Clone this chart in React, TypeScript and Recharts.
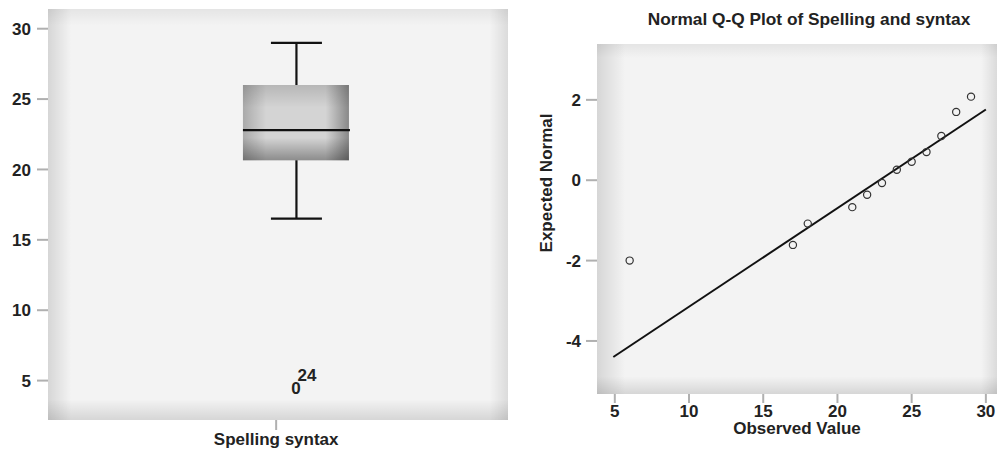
import {
  ComposedChart,
  Bar,
  Scatter,
  XAxis,
  YAxis,
  ReferenceArea,
  ReferenceLine,
} from 'recharts'

// box plot summary for the single variable
const boxCategory = ['Spelling syntax']
const whiskerLow = [16.5]
const quartile1 = [20.65]
const medianValue = [22.8]
const quartile3 = [26]
const whiskerHigh = [29]
const boxTicks = [5, 10, 15, 20, 25, 30]
const boxDomain = [2.2, 31.4]

// case labels of the extreme cases
const outlierCases = ['0', '24']
const outlierValues = [4.45, 5.35]

// normal Q-Q plot
const observed = [6, 17, 18, 21, 22, 23, 24, 25, 26, 27, 28, 29]
const expectedNormal = [-2.0, -1.61, -1.08, -0.67, -0.36, -0.07, 0.26, 0.46, 0.7, 1.1, 1.7, 2.08]
const fitX = [4.9, 30]
const fitY = [-4.4, 1.76]
const qqXTicks = [5, 10, 15, 20, 25, 30]
const qqYTicks = [-4, -2, 0, 2]
const qqXDomain = [3.8, 30.75]
const qqYDomain = [-5.32, 3.39]

const FONT = '"Liberation Sans", Arial, sans-serif'
const CAT_POS = 49.6
const BOX_POS = 53.9

const boxRows = boxCategory.map((name, i) => ({
  name,
  pos: BOX_POS,
  whisker: [whiskerLow[i], whiskerHigh[i]],
  box: [quartile1[i], quartile3[i]],
  q1: quartile1[i],
  q3: quartile3[i],
  median: medianValue[i],
}))

const outlierRows = outlierCases.map((label, i) => ({ pos: BOX_POS, value: outlierValues[i], label }))

const qqPoints = observed.map((x, i) => ({ x, y: expectedNormal[i] }))

const textStyle = { fontSize: 17, fontWeight: 700, fill: '#222', fontFamily: FONT }

function AxisTick(props: any) {
  const { x, y, payload, index, textAnchor, verticalAnchor, tickFormatter } = props
  const label = tickFormatter ? tickFormatter(payload.value, index) : payload.value
  return (
    <text
      x={x}
      y={y}
      dy={verticalAnchor === 'start' ? '0.75em' : '0.36em'}
      textAnchor={textAnchor}
      style={textStyle}
    >
      {label}
    </text>
  )
}

function Whisker(props: any) {
  const { x, y, width, height } = props
  const cx = x + width / 2
  return (
    <g stroke="#111" strokeWidth={2.2}>
      <line x1={cx} y1={y} x2={cx} y2={y + height} />
      <line x1={x} y1={y} x2={x + width} y2={y} />
      <line x1={x} y1={y + height} x2={x + width} y2={y + height} />
    </g>
  )
}

function BoxShape(props: any) {
  const { x, y, width, height, payload } = props
  const my = y + (height * (payload.q3 - payload.median)) / (payload.q3 - payload.q1)
  return (
    <g>
      <rect x={x} y={y} width={width} height={height} fill="#d4d4d4" />
      <rect x={x} y={y} width={width} height={height} fill="url(#boxShadeH)" />
      <rect x={x} y={y} width={width} height={height} fill="url(#boxShadeV)" />
      <line x1={x} y1={my} x2={x + width + 1} y2={my} stroke="#111" strokeWidth={2.2} />
    </g>
  )
}

function CaseLabel(props: any) {
  const { cx, cy, payload, index } = props
  return (
    <text
      x={cx + (index === 1 ? 11 : 0)}
      y={cy}
      textAnchor="middle"
      dominantBaseline="central"
      style={textStyle}
    >
      {payload.label}
    </text>
  )
}

function HollowDot(props: any) {
  const { cx, cy } = props
  return <circle cx={cx} cy={cy} r={3.6} fill="none" stroke="#333" strokeWidth={1.2} />
}

function Shades({ prefix, edge }: { prefix: string; edge: string }) {
  return (
    <defs>
      <linearGradient id={`${prefix}H`} x1="0" y1="0" x2="1" y2="0">
        <stop offset="0%" stopColor="#000" stopOpacity={0.12} />
        <stop offset={edge} stopColor="#000" stopOpacity={0} />
        <stop offset="96%" stopColor="#000" stopOpacity={0} />
        <stop offset="100%" stopColor="#000" stopOpacity={0.1} />
      </linearGradient>
      <linearGradient id={`${prefix}V`} x1="0" y1="0" x2="0" y2="1">
        <stop offset="0%" stopColor="#000" stopOpacity={0.06} />
        <stop offset="4%" stopColor="#000" stopOpacity={0} />
        <stop offset="95%" stopColor="#000" stopOpacity={0} />
        <stop offset="100%" stopColor="#000" stopOpacity={0.12} />
      </linearGradient>
    </defs>
  )
}

const tickLine = { stroke: '#b0b0b0', strokeWidth: 2 }

function BoxPlot() {
  return (
    <ComposedChart width={520} height={449} data={boxRows} margin={{ top: 9, right: 12, bottom: 0, left: 0 }}>
      <Shades prefix="leftBg" edge="5%" />
      <defs>
        <linearGradient id="boxShadeH" x1="0" y1="0" x2="1" y2="0">
          <stop offset="0%" stopColor="#000" stopOpacity={0.2} />
          <stop offset="22%" stopColor="#000" stopOpacity={0} />
          <stop offset="78%" stopColor="#000" stopOpacity={0} />
          <stop offset="100%" stopColor="#000" stopOpacity={0.36} />
        </linearGradient>
        <linearGradient id="boxShadeV" x1="0" y1="0" x2="0" y2="1">
          <stop offset="0%" stopColor="#000" stopOpacity={0.14} />
          <stop offset="30%" stopColor="#000" stopOpacity={0} />
          <stop offset="70%" stopColor="#000" stopOpacity={0} />
          <stop offset="100%" stopColor="#000" stopOpacity={0.34} />
        </linearGradient>
      </defs>
      <XAxis
        xAxisId="cat"
        type="number"
        dataKey="pos"
        domain={[0, 100]}
        ticks={[CAT_POS]}
        tickFormatter={() => boxCategory[0]}
        height={29}
        axisLine={false}
        tickLine={tickLine}
        tickSize={10}
        tickMargin={2}
        tick={<AxisTick />}
      />
      <XAxis xAxisId="w" type="number" dataKey="pos" domain={[0, 100]} height={0} hide />
      <XAxis xAxisId="b" type="number" dataKey="pos" domain={[0, 100]} height={0} hide />
      <YAxis
        type="number"
        domain={boxDomain}
        ticks={boxTicks}
        width={48}
        axisLine={false}
        tickLine={tickLine}
        tickSize={11}
        tickMargin={6}
        tick={<AxisTick />}
      />
      <ReferenceArea xAxisId="cat" x1={0} x2={100} y1={boxDomain[0]} y2={boxDomain[1]} fill="#f3f3f3" fillOpacity={1} stroke="none" />
      <ReferenceArea xAxisId="cat" x1={0} x2={100} y1={boxDomain[0]} y2={boxDomain[1]} fill="url(#leftBgH)" fillOpacity={1} stroke="none" />
      <ReferenceArea xAxisId="cat" x1={0} x2={100} y1={boxDomain[0]} y2={boxDomain[1]} fill="url(#leftBgV)" fillOpacity={1} stroke="none" />
      <Bar xAxisId="w" dataKey="whisker" barSize={51} shape={Whisker} isAnimationActive={false} />
      <Bar xAxisId="b" dataKey="box" barSize={106} shape={BoxShape} isAnimationActive={false} />
      <Scatter xAxisId="cat" data={outlierRows} dataKey="value" shape={CaseLabel} isAnimationActive={false} />
    </ComposedChart>
  )
}

function QQPlot() {
  const yLabel = (props: any) => {
    const vb = props.viewBox
    const x = vb.x + 26
    const y = vb.y + vb.height / 2 - 36
    return (
      <text
        x={x}
        y={y}
        transform={`rotate(-90 ${x} ${y})`}
        textAnchor="middle"
        dominantBaseline="central"
        style={textStyle}
      >
        Expected Normal
      </text>
    )
  }
  return (
    <ComposedChart width={478} height={449} margin={{ top: 44, right: 1, bottom: 0, left: 0 }}>
      <Shades prefix="rightBg" edge="7%" />
      <XAxis
        type="number"
        dataKey="x"
        domain={qqXDomain}
        ticks={qqXTicks}
        height={55}
        axisLine={false}
        tickLine={tickLine}
        tickSize={9}
        tickMargin={1}
        tick={<AxisTick />}
        label={{ value: 'Observed Value', position: 'insideBottom', offset: 15, style: textStyle }}
      />
      <YAxis
        type="number"
        dataKey="y"
        domain={qqYDomain}
        ticks={qqYTicks}
        width={77}
        axisLine={false}
        tickLine={tickLine}
        tickSize={11}
        tickMargin={5}
        tick={<AxisTick />}
        label={{ content: yLabel }}
      />
      <ReferenceArea x1={qqXDomain[0]} x2={qqXDomain[1]} y1={qqYDomain[0]} y2={qqYDomain[1]} fill="#f3f3f3" fillOpacity={1} stroke="none" />
      <ReferenceArea x1={qqXDomain[0]} x2={qqXDomain[1]} y1={qqYDomain[0]} y2={qqYDomain[1]} fill="url(#rightBgH)" fillOpacity={1} stroke="none" />
      <ReferenceArea x1={qqXDomain[0]} x2={qqXDomain[1]} y1={qqYDomain[0]} y2={qqYDomain[1]} fill="url(#rightBgV)" fillOpacity={1} stroke="none" />
      <ReferenceLine
        segment={[
          { x: fitX[0], y: fitY[0] },
          { x: fitX[1], y: fitY[1] },
        ]}
        stroke="#111"
        strokeWidth={2}
      />
      <Scatter data={qqPoints} shape={HollowDot} isAnimationActive={false} />
    </ComposedChart>
  )
}

export default function App() {
  return (
    <div style={{ position: 'absolute', left: 0, top: 0, width: 998, height: 449, background: '#fff', fontFamily: FONT }}>
      <div style={{ position: 'absolute', left: 0, top: 0 }}>
        <BoxPlot />
      </div>
      <div style={{ position: 'absolute', left: 520, top: 0 }}>
        <QQPlot />
      </div>
      <div
        style={{
          position: 'absolute',
          left: 620,
          top: 10,
          width: 378,
          textAlign: 'center',
          fontSize: 17.3,
          fontWeight: 700,
          color: '#222',
          lineHeight: '19px',
        }}
      >
        Normal Q-Q Plot of Spelling and syntax
      </div>
    </div>
  )
}
